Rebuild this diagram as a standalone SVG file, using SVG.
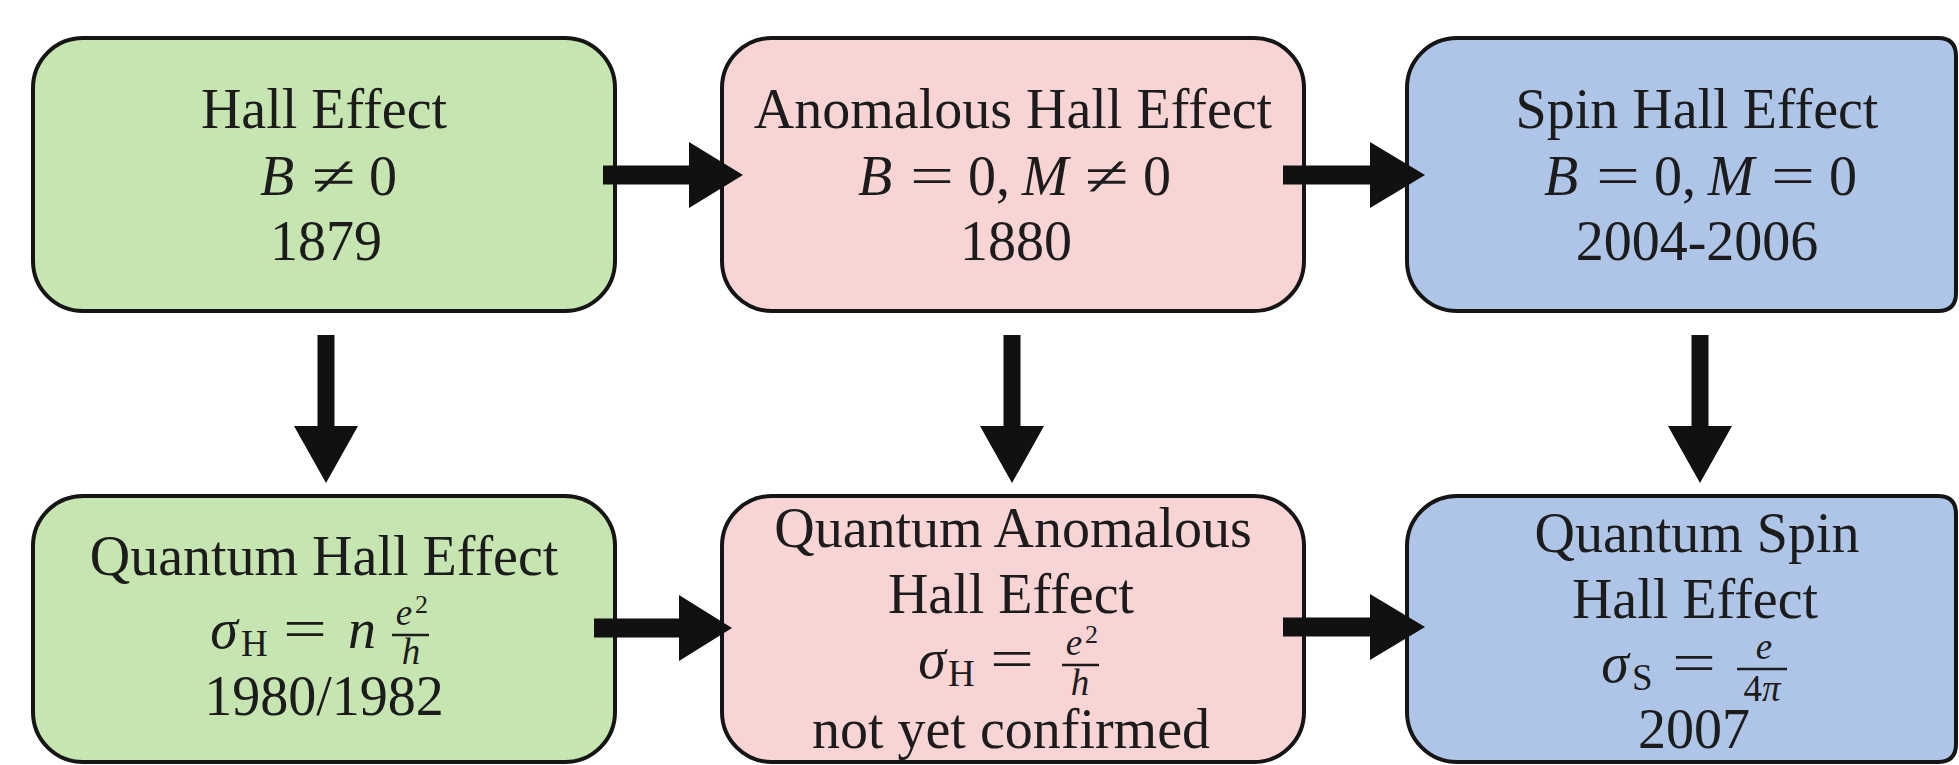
<svg xmlns="http://www.w3.org/2000/svg" width="1959" height="765" viewBox="0 0 1959 765">
<style>
.box{stroke:#151515;stroke-width:4}
.g{fill:#c7e5b0}.p{fill:#f9d4d4}.b{fill:#aec5e7}
text{font-family:"Liberation Serif","Times New Roman",serif;fill:#1c1c1c;font-size:56px}
.c{text-anchor:middle}
.i{font-style:italic}
.s{font-size:37px}
.ss{font-size:26px}
.bar{stroke:#1c1c1c;stroke-width:2.5}
.arrow{fill:#111}
</style>
<rect width="1959" height="765" fill="#ffffff"/>
<g id="hall">
<rect class="box g" x="33" y="38" width="582" height="273" rx="50"/>
<text class="c" x="324" y="128">Hall Effect</text>
<text class="i c" x="277" y="195">B</text>
<text class="c" x="334" y="195" textLength="44" lengthAdjust="spacingAndGlyphs">≠</text>
<text class="c" x="383" y="195">0</text>
<text class="c" x="326" y="260">1879</text>
</g>
<g id="anomalous">
<rect class="box p" x="722" y="38" width="582" height="273" rx="50"/>
<text class="c" x="1013" y="128">Anomalous Hall Effect</text>
<text class="i c" x="875" y="195">B</text>
<text class="c" x="932" y="195" textLength="44" lengthAdjust="spacingAndGlyphs">=</text>
<text x="968" y="195">0,</text>
<text class="i c" x="1045" y="195">M</text>
<text class="c" x="1107" y="195" textLength="44" lengthAdjust="spacingAndGlyphs">≠</text>
<text class="c" x="1157" y="195">0</text>
<text class="c" x="1016" y="260">1880</text>
</g>
<g id="spin">
<path class="box b" d="M1457,38 H1938 Q1956,38 1956,56 V293 Q1956,311 1938,311 H1457 A50,50 0 0 1 1407,261 V88 A50,50 0 0 1 1457,38 Z"/>
<text class="c" x="1697" y="128">Spin Hall Effect</text>
<text class="i c" x="1561" y="195">B</text>
<text class="c" x="1618" y="195" textLength="44" lengthAdjust="spacingAndGlyphs">=</text>
<text x="1654" y="195">0,</text>
<text class="i c" x="1731" y="195">M</text>
<text class="c" x="1793" y="195" textLength="44" lengthAdjust="spacingAndGlyphs">=</text>
<text class="c" x="1843" y="195">0</text>
<text class="c" x="1697" y="260">2004-2006</text>
</g>
<g id="quantum-hall">
<rect class="box g" x="33" y="496" width="582" height="266" rx="50"/>
<text class="c" x="324" y="575">Quantum Hall Effect</text>
<text class="i c" x="224" y="648">σ</text>
<text class="s" x="241" y="656">H</text>
<text class="c" x="305" y="648" textLength="44" lengthAdjust="spacingAndGlyphs">=</text>
<text class="i c" x="362" y="648">n</text>
<line class="bar" x1="392" y1="635" x2="429" y2="635"/>
<text class="s i c" x="404" y="625">e</text>
<text class="ss" x="415" y="613">2</text>
<text class="s i c" x="411" y="664">h</text>
<text class="c" x="324" y="715">1980/1982</text>
</g>
<g id="quantum-anomalous">
<rect class="box p" x="722" y="496" width="582" height="266" rx="50"/>
<text class="c" x="1013" y="547">Quantum Anomalous</text>
<text class="c" x="1011" y="613">Hall Effect</text>
<text class="i c" x="932" y="678">σ</text>
<text class="s" x="948" y="686">H</text>
<text class="c" x="1012" y="678" textLength="44" lengthAdjust="spacingAndGlyphs">=</text>
<line class="bar" x1="1062" y1="665" x2="1099" y2="665"/>
<text class="s i c" x="1074" y="655">e</text>
<text class="ss" x="1085" y="643">2</text>
<text class="s i c" x="1080" y="695">h</text>
<text class="c" x="1011" y="748">not yet confirmed</text>
</g>
<g id="quantum-spin">
<path class="box b" d="M1457,496 H1938 Q1956,496 1956,514 V744 Q1956,762 1938,762 H1457 A50,50 0 0 1 1407,712 V546 A50,50 0 0 1 1457,496 Z"/>
<text class="c" x="1697" y="552">Quantum Spin</text>
<text class="c" x="1695" y="618">Hall Effect</text>
<text class="i c" x="1615" y="682">σ</text>
<text class="s" x="1632" y="690">S</text>
<text class="c" x="1694" y="682" textLength="44" lengthAdjust="spacingAndGlyphs">=</text>
<line class="bar" x1="1737" y1="669" x2="1787" y2="669"/>
<text class="s i c" x="1764" y="659">e</text>
<text class="s c" x="1762" y="701">4<tspan class="i">π</tspan></text>
<text class="c" x="1694" y="748">2007</text>
</g>
<g id="connectors" class="arrow">
<polygon points="603,165.5 689,165.5 689,142 743,175 689,208 689,184.5 603,184.5"/>
<polygon points="1283,165.5 1370,165.5 1370,142 1425,175 1370,208 1370,184.5 1283,184.5"/>
<polygon points="594,618.5 679,618.5 679,595 732,628 679,661 679,637.5 594,637.5"/>
<polygon points="1283,617.5 1370,617.5 1370,594 1425,627 1370,660 1370,636.5 1283,636.5"/>
<polygon points="317.5,335 334.5,335 334.5,426 358,426 326,483 294,426 317.5,426"/>
<polygon points="1003.5,335 1020.5,335 1020.5,426 1044,426 1012,483 980,426 1003.5,426"/>
<polygon points="1691.5,335 1708.5,335 1708.5,426 1732,426 1700,483 1668,426 1691.5,426"/>
</g>
</svg>
